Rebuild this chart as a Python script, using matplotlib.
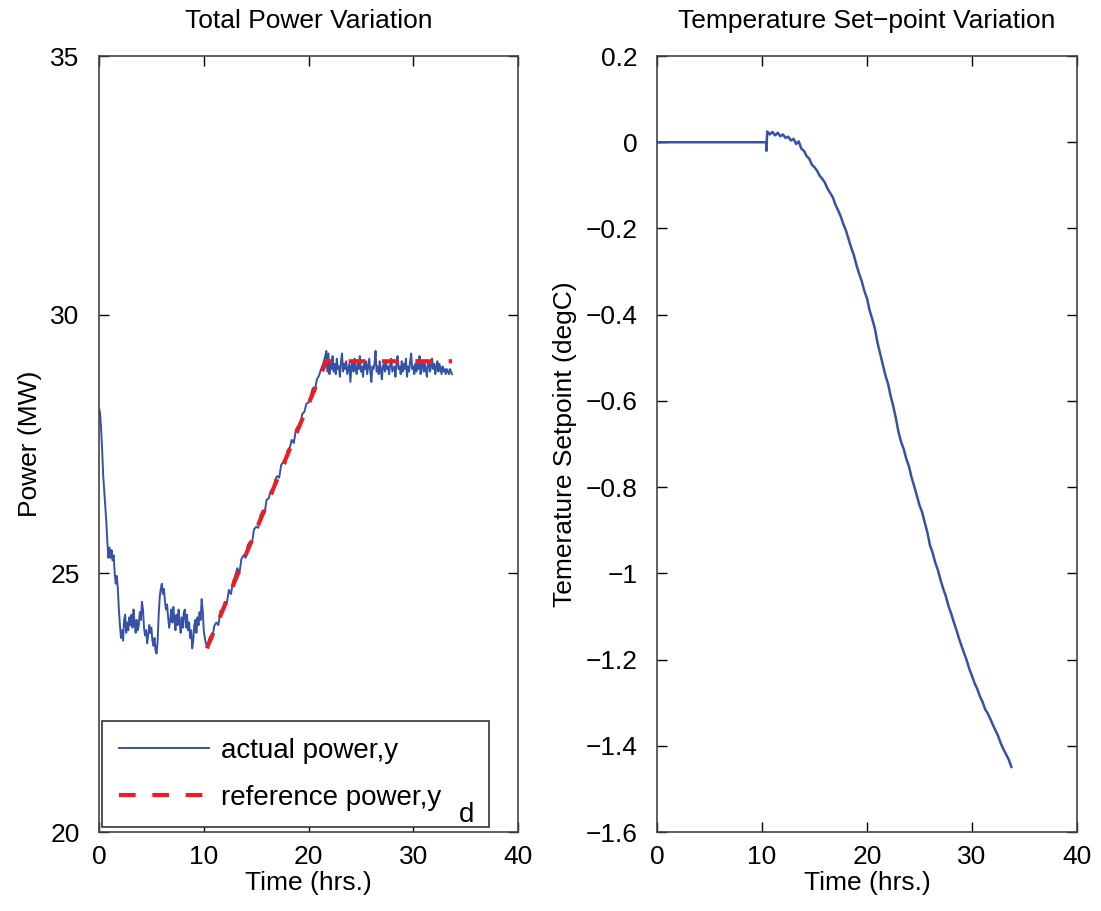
import matplotlib
matplotlib.use("Agg")
import matplotlib.pyplot as plt
import numpy as np

# actual power, first segment (0 - 10.3 hrs)
power_a = [28.2, 28.1, 27.8, 27.4, 26.9, 26.6, 26.3, 26.0, 25.6, 25.3,
           25.5, 25.3, 25.45, 25.25, 25.35, 25.0, 24.8, 24.95, 24.7, 24.3,
           24.0, 23.75, 23.9, 23.7, 24.1, 24.2, 23.85, 24.05, 23.9, 24.15,
           24.0, 24.2, 23.95, 24.3, 24.05, 23.85, 24.1, 23.9, 24.0, 24.25,
           24.1, 24.45, 24.3, 23.95, 23.8, 23.9, 23.65, 23.8, 24.0, 23.85,
           23.95, 23.7, 23.6, 23.75, 23.5, 23.45, 23.7, 24.2, 24.55, 24.7,
           24.8, 24.6, 24.7, 24.45, 24.3, 24.4, 24.15, 23.95, 24.1, 24.3,
           24.05, 24.35, 24.1, 23.9, 24.2, 24.0, 24.3, 24.05, 23.85, 24.15,
           23.95, 24.25, 24.3, 23.95, 24.2, 23.9, 24.05, 23.75, 23.9, 23.55,
           23.7, 24.0, 24.1, 23.85, 24.15, 24.0, 24.25, 24.1, 24.5, 24.3,
           23.9, 23.75, 23.65, 23.6]
# ramp segment (10.4 - 21.6 hrs)
power_b = [23.65, 23.78, 23.72, 23.98, 24.05, 24.0, 24.28, 24.25, 24.45, 24.42,
           24.68, 24.6, 24.85, 24.95, 25.1, 25.0, 25.28, 25.35, 25.3, 25.55,
           25.6, 25.58, 25.85, 25.9, 25.88, 26.12, 26.2, 26.15, 26.42, 26.45,
           26.6, 26.55, 26.8, 26.88, 26.85, 27.1, 27.15, 27.12, 27.38, 27.42,
           27.58, 27.52, 27.78, 27.85, 27.82, 28.08, 28.12, 28.28, 28.3, 28.42,
           28.58, 28.52, 28.75, 28.82, 28.95, 29.05, 29.2]
# flat segment (21.7 - 33.7 hrs)
power_c = [29.3, 28.9, 29.25, 28.85, 29.1, 28.95, 29.2, 28.9, 29.05, 28.85,
           29.15, 28.95, 29.0, 28.8, 29.1, 29.25, 28.9, 29.05, 28.95, 29.1,
           28.85, 28.95, 29.05, 28.7, 29.0, 29.1, 28.9, 29.15, 28.95, 28.85,
           29.05, 28.95, 29.2, 28.9, 29.0, 28.8, 29.05, 28.95, 29.1, 28.85,
           29.0, 29.15, 28.9, 28.7, 29.0, 28.95, 29.05, 29.3, 28.9, 29.0,
           28.85, 29.1, 28.95, 28.75, 29.0, 29.05, 28.9, 29.1, 28.95, 29.0,
           28.85, 29.05, 29.15, 28.9, 28.95, 29.0, 28.8, 29.05, 29.2, 28.95,
           29.0, 28.85, 29.1, 28.9, 29.05, 28.95, 29.15, 28.8, 29.0, 28.9,
           29.1, 29.25, 28.95, 29.0, 28.85, 29.05, 28.9, 29.1, 28.95, 29.2,
           28.85, 29.0, 29.1, 28.9, 29.05, 28.95, 28.8, 29.05, 29.1, 28.9,
           29.0, 29.15, 28.95, 29.05, 28.85, 29.0, 29.1, 28.9, 29.05, 28.95,
           28.85, 29.0, 28.9, 28.95, 28.85, 28.95, 28.9, 28.85, 28.95, 28.9, 28.85]

ref_t = [10.3, 21.7, 33.7]
ref_power = [23.55, 29.1, 29.1]

# temperature setpoint
temp_flat_t = [0, 10.4, 10.42]
temp_flat = [0, 0, -0.02]
temp_vals = [0.025, 0.018, 0.024, 0.016, 0.022, 0.014, 0.018, 0.010, 0.013, 0.004,
             0.008, -0.004, 0.002, -0.015, -0.020, -0.032, -0.038, -0.052, -0.058, -0.066,
             -0.078, -0.085, -0.094, -0.108, -0.118, -0.128, -0.145, -0.158, -0.172, -0.190,
             -0.205, -0.225, -0.245, -0.262, -0.285, -0.305, -0.322, -0.345, -0.362, -0.390,
             -0.410, -0.432, -0.465, -0.490, -0.515, -0.540, -0.560, -0.588, -0.612, -0.640,
             -0.672, -0.695, -0.712, -0.735, -0.752, -0.778, -0.798, -0.820, -0.842, -0.858,
             -0.882, -0.905, -0.935, -0.952, -0.975, -0.992, -1.015, -1.035, -1.052, -1.075,
             -1.092, -1.112, -1.130, -1.150, -1.168, -1.185, -1.202, -1.222, -1.238, -1.255,
             -1.268, -1.285, -1.298, -1.315, -1.325, -1.338, -1.352, -1.365, -1.378, -1.395,
             -1.408, -1.420, -1.432, -1.449]

t_a = np.linspace(0, 10.3, len(power_a))
t_b = np.linspace(10.4, 21.6, len(power_b))
t_c = np.linspace(21.7, 33.7, len(power_c))
t_power = np.concatenate([t_a, t_b, t_c])
power = np.concatenate([power_a, power_b, power_c])

t_temp = np.concatenate([temp_flat_t, np.linspace(10.5, 33.75, len(temp_vals))])
temp = np.concatenate([temp_flat, temp_vals])

plt.rcParams['font.family'] = ['Liberation Sans', 'DejaVu Sans']
plt.rcParams['font.size'] = 19

blue = '#3552a8'
red = '#ee1c25'

fig = plt.figure(figsize=(11.01, 9.11), dpi=100)
ax1 = fig.add_axes([0.0899, 0.0867, 0.3806, 0.8518])
ax2 = fig.add_axes([0.5967, 0.0867, 0.3815, 0.8518])

ax1.plot(t_power, power, color=blue, lw=1.4, label='actual power,y')
ax1.plot(ref_t, ref_power, color=red, lw=3.0, ls=(0, (4, 4)),
         label='reference power,y    ')
ax1.set_xlim(0, 40)
ax1.set_ylim(20, 35)
ax1.set_xticks([0, 10, 20, 30, 40])
ax1.set_yticks([20, 25, 30, 35])
ax1.set_title('Total Power Variation', fontsize=19, pad=20)
ax1.set_xlabel('Time (hrs.)', labelpad=2)
ax1.set_ylabel('Power (MW)', labelpad=6)
leg = ax1.legend(loc='lower left', fancybox=False, edgecolor='#333333', framealpha=1,
                 fontsize=20, handlelength=3.25, handletextpad=0.43, borderpad=0.6,
                 labelspacing=0.75, borderaxespad=0, bbox_to_anchor=(0.008, 0.006))
leg.get_frame().set_linewidth(1.2)
# MATLAB-style subscript "d", drawn below the end of the second legend label
ax1.annotate('d', xy=(1, 0), xycoords=leg.get_texts()[1], xytext=(-4, -8),
             textcoords='offset points', fontsize=20, ha='center', va='baseline',
             zorder=10)

ax2.plot(t_temp, temp, color=blue, lw=1.8)
ax2.set_xlim(0, 40)
ax2.set_ylim(-1.6, 0.2)
ax2.set_xticks([0, 10, 20, 30, 40])
ax2.set_yticks(np.round(np.arange(-1.6, 0.21, 0.2), 1))
ax2.set_yticklabels(['\u22121.6', '\u22121.4', '\u22121.2', '\u22121', '\u22120.8', '\u22120.6',
                     '\u22120.4', '\u22120.2', '0', '0.2'])
ax2.set_title('Temperature Set\u2212point Variation', fontsize=19, pad=20)
ax2.set_xlabel('Time (hrs.)', labelpad=2)
ax2.set_ylabel('Temerature Setpoint (degC)', labelpad=6)

for ax in (ax1, ax2):
    ax.tick_params(direction='in', top=True, right=True, length=7, width=1,
                   labelsize=19, pad=9)
    ax.tick_params(axis='y', pad=14)
    for s in ax.spines.values():
        s.set_linewidth(1.2)
        s.set_color('#444444')

fig.savefig('out.png', dpi=100)
